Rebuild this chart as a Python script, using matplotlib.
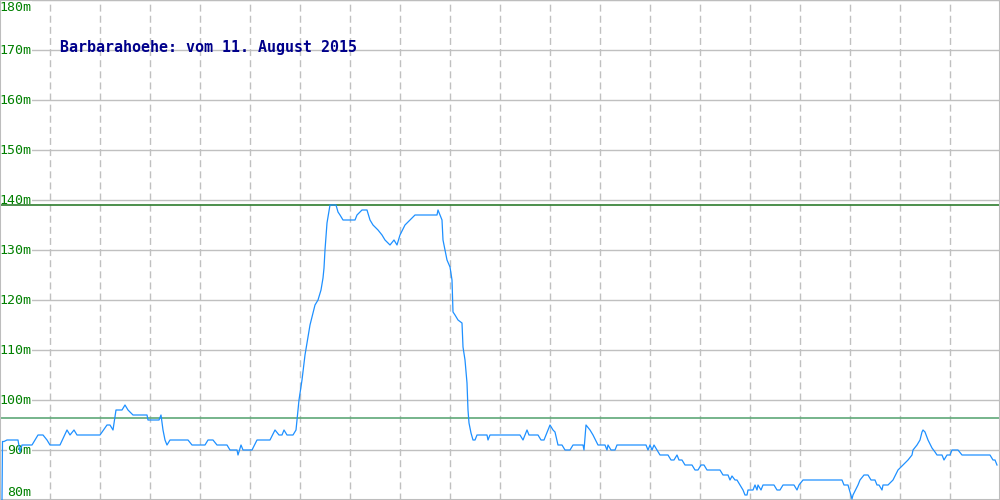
#!/usr/bin/env python
# Elevation profile "Barbarahoehe" redrawn from a screenshot
import matplotlib
matplotlib.use('Agg')
import matplotlib.pyplot as plt

######################################################################
# Data (position along track, elevation in m)
######################################################################

pos = [2, 2.5, 4, 7, 18, 20, 22, 32, 38, 43, 47, 50, 60, 67, 70, 74, 77, 100,
       107, 110, 113, 116, 122, 125, 128, 133, 147, 148, 159, 161, 163, 165,
       167, 170, 188, 192, 205, 208, 213, 217, 227, 230, 237, 238, 241, 243,
       252, 257, 270, 275, 279, 282, 284, 287, 293, 296, 299, 302, 305, 310,
       315, 318, 321, 323, 324, 325, 327, 330, 336, 338, 340, 343, 355, 357,
       362, 367, 370, 373, 378, 382, 385, 390, 394, 397, 400, 405, 410, 415,
       437, 438, 442, 443, 445, 447, 450, 452, 453, 455, 458, 462, 463, 465,
       467, 468, 469, 471, 473, 475, 477, 487, 488, 490, 520, 523, 527, 529,
       538, 541, 544, 550, 553, 555, 558, 562, 565, 570, 573, 583, 584, 586,
       590, 593, 598, 605, 607, 608, 611, 615, 617, 646, 648, 650, 652, 654,
       657, 660, 668, 671, 674, 677, 679, 682, 685, 692, 695, 698, 701, 704,
       707, 720, 723, 728, 730, 732, 735, 737, 740, 743, 745, 747, 748, 753,
       755, 757, 758, 761, 763, 774, 777, 780, 783, 794, 797, 799, 803, 842,
       844, 848, 852, 853, 858, 860, 864, 868, 871, 875, 877, 879, 882, 883,
       888, 893, 898, 903, 908, 912, 913, 917, 920, 922, 923, 925, 928, 932,
       935, 937, 942, 944, 947, 950, 952, 958, 962, 990, 993, 995, 997]
elev = [80, 91.7, 91.7, 92, 92, 89.6, 91, 91, 93, 93, 92, 91, 91, 94, 93, 94,
        93, 93, 95, 95, 94, 98, 98, 99, 98, 97, 97, 96, 96, 97, 94, 92, 91,
        92, 92, 91, 91, 92, 92, 91, 91, 90, 90, 89, 91, 90, 90, 92, 92, 94,
        93, 93, 94, 93, 93, 94, 100, 104, 109, 115, 119, 120, 122, 124.4,
        126.4, 130, 135.4, 139, 139, 137.6, 137, 136, 136, 137, 138, 138, 136,
        135, 134, 133, 132, 131, 132, 131, 133, 135, 136, 137, 137, 138, 136,
        132, 130, 128, 126.6, 124, 117.6, 117, 116, 115.4, 110.6, 108, 103.4,
        98, 95.4, 93.4, 92, 92, 93, 93, 92, 93, 93, 92, 94, 93, 93, 92, 92,
        95, 94, 93.6, 91, 91, 90, 90, 91, 91, 90, 95, 94, 93, 91, 91, 90, 91,
        90, 90, 91, 91, 90, 91, 90, 91, 90, 89, 89, 88, 88, 89, 88, 88, 87,
        87, 86, 86, 87, 87, 86, 86, 85, 85, 84, 84.8, 84, 84, 83, 82, 81, 81,
        82, 82, 83, 82, 83, 82, 83, 83, 82, 82, 83, 83, 82, 83, 84, 84, 83,
        83, 80.2, 81, 83, 84, 85, 85, 84, 84, 83, 83, 82, 83, 83, 84, 86, 87,
        88, 89, 90, 91, 92, 93.6, 94, 93.6, 92, 90.4, 89.6, 89, 89, 88, 89,
        89, 90, 90, 89, 89, 88, 88, 87]

max_elev = 139.0
mean_elev = 96.5
y_ticks = [80, 90, 100, 110, 120, 130, 140, 150, 160, 170, 180]
title = "Barbarahoehe: vom 11. August 2015"

######################################################################
# Graphing
######################################################################

fig = plt.figure(figsize=(10, 5), dpi=100)
ax = fig.add_axes([0, 0, 1, 1])
ax.set_xlim(0, 1000)
ax.set_ylim(80, 180)
ax.set_xticks([])
ax.set_yticks([])
for s in ax.spines.values():
    s.set_color('#bdbdbd')
    s.set_linewidth(1.5)

grid = '#c0c0c0'
for x in range(50, 1000, 50):
    ax.axvline(x, color=grid, lw=1, ls=(0, (5, 3)), zorder=1)
for y in y_ticks:
    ax.axhline(y, color=grid, lw=1, zorder=1)

# labels sit over the grid, but under the marker lines and the profile
for y in y_ticks:
    va = 'center'
    yy = y - 0.2
    if y == 180:
        va, yy = 'top', 179.8
    elif y == 80:
        va, yy = 'bottom', 80.2
    ax.text(31.5, yy, '%dm' % y, color='#008000', fontsize=9.5,
            family='DejaVu Sans Mono', va=va, ha='right', zorder=2,
            bbox=dict(facecolor='white', edgecolor='none', pad=0.5))

ax.axhline(max_elev, color='#2e7d2e', lw=1.2, zorder=2.5)
ax.axhline(mean_elev, color='#5fa878', lw=1.2, zorder=2.5)

ax.plot(pos, elev, '-', color='#1e90ff', lw=0.9, zorder=3)

ax.text(60, 170.5, title, color='#00008b', fontsize=10.8, weight='bold',
        family='DejaVu Sans Mono', va='center', ha='left', zorder=4)

fig.savefig('out.png', dpi=100)
